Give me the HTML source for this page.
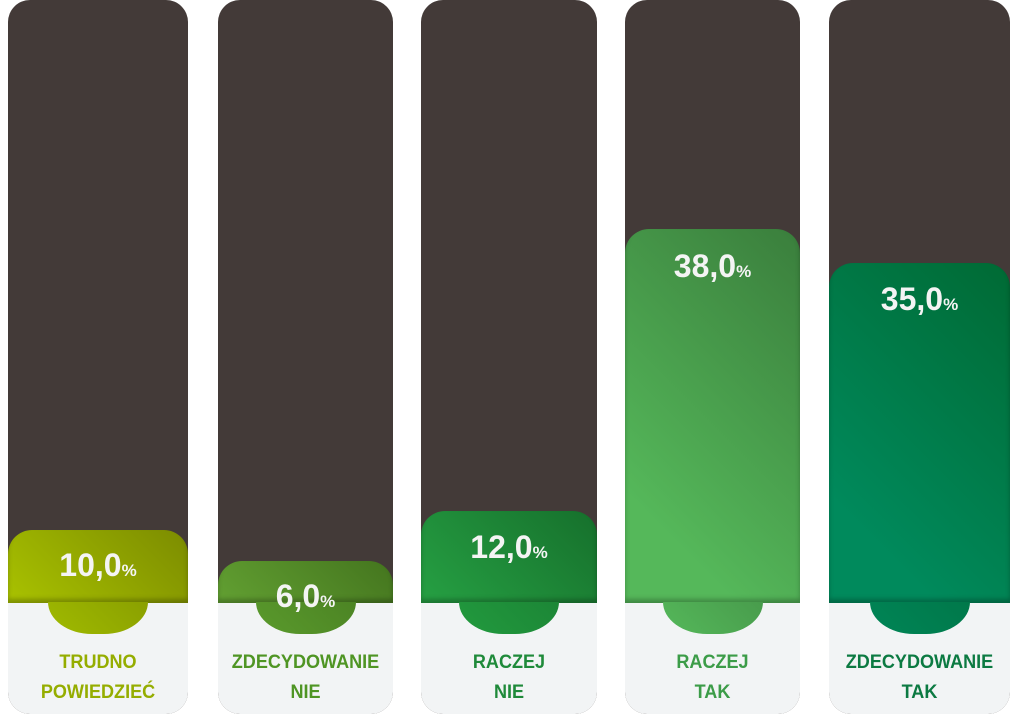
<!DOCTYPE html>
<html><head><meta charset="utf-8"><style>
body{margin:0;width:1024px;height:725px;background:#fff;position:relative;overflow:hidden;font-family:"Liberation Sans",sans-serif}
.col{position:absolute;top:0;height:714px;background:#433a38;border-radius:22px;overflow:hidden}
.bot{position:absolute;left:0;right:0;top:603px;bottom:0;background:#f2f4f5}
.g{position:absolute;left:0;right:0;bottom:111px;border-radius:24px 24px 0 0;box-shadow:inset 0 -4px 5px rgba(0,0,0,.25)}
.tab{position:absolute;top:602px;height:32px;left:50%;width:100px;margin-left:-50px;border-radius:0 0 44px 44px/0 0 32px 32px}
.v{position:absolute;left:0;right:0;text-align:center;color:#f4f4f4;font-weight:bold;font-size:32px}
.v small{font-size:17px}
.l{position:absolute;left:0;right:0;top:648px;text-align:center;font-weight:bold;font-size:19px;line-height:30px;transform:scaleX(0.95)}
</style></head><body>

<div class="col" style="left:8px;width:180px">
<div class="bot"></div>
<div class="g" style="top:530px;background:linear-gradient(45deg,#a9c200,#7c8c00)"></div>
<div class="tab" style="background:linear-gradient(45deg,#a0ba00,#8aa000)"></div>
<div class="v" style="top:547px">10,0<small>%</small></div>
<div class="l" style="color:#95ad00">TRUDNO<br>POWIEDZIEĆ</div>
</div>

<div class="col" style="left:218px;width:175px">
<div class="bot"></div>
<div class="g" style="top:561px;background:linear-gradient(45deg,#62a032,#44751e)"></div>
<div class="tab" style="background:linear-gradient(45deg,#5a9a2c,#4c8424)"></div>
<div class="v" style="top:578px">6,0<small>%</small></div>
<div class="l" style="color:#4f9524">ZDECYDOWANIE<br>NIE</div>
</div>

<div class="col" style="left:421px;width:176px">
<div class="bot"></div>
<div class="g" style="top:511px;background:linear-gradient(45deg,#26a043,#16702c)"></div>
<div class="tab" style="background:linear-gradient(45deg,#229a3e,#1c8636)"></div>
<div class="v" style="top:529px">12,0<small>%</small></div>
<div class="l" style="color:#1f8a3a">RACZEJ<br>NIE</div>
</div>

<div class="col" style="left:625px;width:175px">
<div class="bot"></div>
<div class="g" style="top:229px;background:linear-gradient(45deg,#55b85a 20%,#3a7e3c)"></div>
<div class="tab" style="background:linear-gradient(45deg,#55b85a,#489c4c)"></div>
<div class="v" style="top:248px">38,0<small>%</small></div>
<div class="l" style="color:#3c9c48">RACZEJ<br>TAK</div>
</div>

<div class="col" style="left:829px;width:181px">
<div class="bot"></div>
<div class="g" style="top:263px;background:linear-gradient(45deg,#008a5c 20%,#006a34)"></div>
<div class="tab" style="background:linear-gradient(45deg,#008556,#00784a)"></div>
<div class="v" style="top:281px">35,0<small>%</small></div>
<div class="l" style="color:#0c7a42">ZDECYDOWANIE<br>TAK</div>
</div>

</body></html>
